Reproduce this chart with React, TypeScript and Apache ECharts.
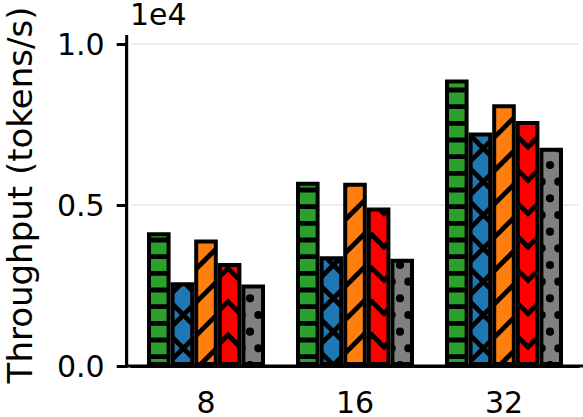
import React, { useEffect, useRef } from 'react';
import * as echarts from 'echarts';

// Batch sizes on the x axis and throughput per configuration (tokens/s)
const categories = ['8', '16', '32'];
const hlineValues = [4150, 5720, 8900];
const crossValues = [2600, 3410, 7250];
const slashValues = [3930, 5690, 8130];
const chevronValues = [3200, 4920, 7610];
const dotValues = [2530, 3330, 6780];
const yTickValues = [0, 5000, 10000];

const FONT = 'DejaVu Sans';
const BAR_W = 23.6;
const EDGE_W = 4;
const HATCH_W = 4.8;
const TILE = 100; // one hatch unit cell
const STEP = TILE / 6;
const DIAG = TILE / 3;
const CHEV_W = 24;

type Ctx = CanvasRenderingContext2D;

function makeTile(bg: string, w: number, h: number, draw: (ctx: Ctx) => void) {
  const c = document.createElement('canvas');
  c.width = w;
  c.height = h;
  const ctx = c.getContext('2d') as Ctx;
  ctx.fillStyle = bg;
  ctx.fillRect(0, 0, w, h);
  ctx.strokeStyle = '#000';
  ctx.fillStyle = '#000';
  ctx.lineWidth = HATCH_W;
  ctx.lineCap = 'butt';
  draw(ctx);
  return c;
}

function seg(ctx: Ctx, x1: number, y1: number, x2: number, y2: number) {
  ctx.beginPath();
  ctx.moveTo(x1, y1);
  ctx.lineTo(x2, y2);
  ctx.stroke();
}

function horizontal(ctx: Ctx) {
  for (let k = -1; k <= 7; k++) {
    const y = 6.67 + k * STEP;
    seg(ctx, -5, y, TILE + 5, y);
  }
}

function forward(ctx: Ctx) {
  // lines x + y = c
  for (let k = -4; k <= 7; k++) {
    const c = 31.67 + k * DIAG;
    seg(ctx, c + 10, -10, c - 110, 110);
  }
}

function backward(ctx: Ctx) {
  // lines x - y = c
  for (let k = -4; k <= 4; k++) {
    const c = 1.67 + k * DIAG;
    seg(ctx, c - 10, -10, c + 110, 110);
  }
}

function dots(ctx: Ctx) {
  const r = 1.67 + HATCH_W / 2;
  const dot = (x: number, y: number) => {
    ctx.beginPath();
    ctx.arc(x, y, r, 0, Math.PI * 2);
    ctx.fill();
  };
  for (let m = -1; m <= 3; m++) {
    for (let i = -1; i <= 7; i++) {
      dot(i * STEP, 31.67 + m * DIAG);
      dot(STEP / 2 + i * STEP, 15 + m * DIAG);
    }
  }
}

function chevrons(ctx: Ctx) {
  ctx.lineJoin = 'miter';
  const half = CHEV_W / 2;
  for (let k = -1; k <= 4; k++) {
    const a = 1.67 + k * DIAG;
    ctx.beginPath();
    ctx.moveTo(-3, a + half + 3);
    ctx.lineTo(half, a);
    ctx.lineTo(CHEV_W + 3, a + half + 3);
    ctx.stroke();
  }
}

function pattern(canvas: HTMLCanvasElement, x = 0, y = 0) {
  return {
    image: canvas,
    repeat: 'repeat',
    imageWidth: canvas.width,
    imageHeight: canvas.height,
    x,
    y,
  };
}

export default function App() {
  const ref = useRef<HTMLDivElement>(null);

  useEffect(() => {
    if (!ref.current) return;
    const chart = echarts.init(ref.current, null, { renderer: 'svg' });

    const greenTile = makeTile('#2ca02c', TILE, TILE, horizontal);
    const blueTile = makeTile('#1f77b4', TILE, TILE, (ctx) => {
      forward(ctx);
      backward(ctx);
    });
    const orangeTile = makeTile('#ff7f0e', TILE, TILE, forward);
    const redTile = makeTile('#ff0000', CHEV_W, TILE, chevrons);
    const grayTile = makeTile('#808080', TILE, TILE, dots);

    const bar = (name: string, data: any[], color: any) => ({
      type: 'bar',
      name,
      data,
      barWidth: BAR_W,
      barGap: '0%',
      silent: true,
      emphasis: { disabled: true },
      itemStyle: { color, borderColor: '#000', borderWidth: EDGE_W },
    });

    const axisLineStyle = { color: '#000', width: 3 };

    chart.setOption({
      animation: false,
      grid: { left: 131.5, right: 4.5, top: 44, bottom: 51, outerBoundsMode: 'none' },
      xAxis: {
        type: 'category',
        data: categories,
        axisLine: { lineStyle: axisLineStyle },
        axisTick: { alignWithLabel: true, length: 9, lineStyle: axisLineStyle },
        axisLabel: { fontSize: 30, lineHeight: 26, color: '#000', fontFamily: FONT, margin: 23 },
        splitLine: { show: false },
      },
      yAxis: {
        type: 'value',
        min: yTickValues[0],
        max: yTickValues[yTickValues.length - 1],
        interval: yTickValues[1] - yTickValues[0],
        offset: 4.8,
        axisLine: { show: true, lineStyle: axisLineStyle },
        axisTick: { show: true, length: 10, lineStyle: axisLineStyle },
        axisLabel: {
          fontSize: 30,
          color: '#000',
          fontFamily: FONT,
          margin: 22,
          formatter: (v: number) => (v / 10000).toFixed(1),
        },
        splitLine: { show: true, lineStyle: { color: '#e6e6e6', width: 1.5 } },
        name: 'Throughput (tokens/s)',
        nameLocation: 'middle',
        nameGap: 90,
        nameTextStyle: { fontSize: 34, color: '#000', fontFamily: FONT, padding: [0, 0, 0, 20] },
      },
      graphic: [
        {
          type: 'line',
          z: 10,
          shape: { x1: 125.2, y1: 366, x2: 583, y2: 366 },
          style: { stroke: '#000', lineWidth: 3 },
        },
        {
          type: 'line',
          z: 10,
          shape: { x1: 126.7, y1: 35, x2: 126.7, y2: 367.5 },
          style: { stroke: '#000', lineWidth: 3 },
        },
        {
          type: 'text',
          z: 10,
          style: {
            text: '1e4',
            x: 130,
            y: 14,
            verticalAlign: 'middle',
            fontSize: 30,
            fontFamily: FONT,
            fill: '#000',
          },
        },
      ],
      series: [
        bar('hline', hlineValues, pattern(greenTile)),
        bar('cross', crossValues, pattern(blueTile)),
        bar('slash', slashValues, pattern(orangeTile)),
        bar('chevron', chevronValues, pattern(redTile)),
        bar('dots', dotValues, pattern(grayTile)),
      ],
    });

    // Chevrons are centred on each red bar, so each bar gets its own anchor.
    const chevronData = chevronValues.map((v, i) => {
      const center = (chart.convertToPixel({ xAxisIndex: 0 }, categories[i]) as number) + BAR_W;
      return { value: v, itemStyle: { color: pattern(redTile, center - CHEV_W / 2, 0) } };
    });
    chart.setOption({ series: [{}, {}, {}, { data: chevronData }, {}] });

    return () => chart.dispose();
  }, []);

  return (
    <div
      ref={ref}
      style={{ position: 'absolute', left: 0, top: 0, width: 583, height: 417, background: '#fff' }}
    />
  );
}
